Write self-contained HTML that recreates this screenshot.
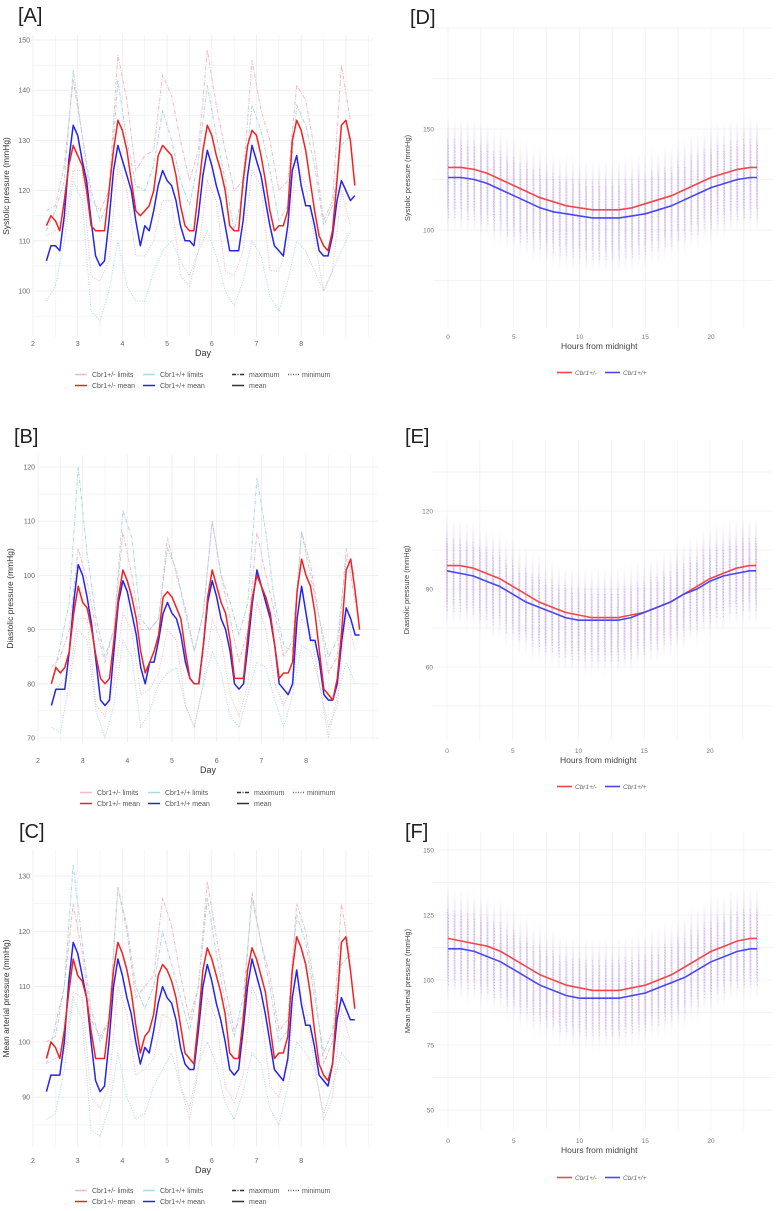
<!DOCTYPE html>
<html><head><meta charset="utf-8"><style>
body{margin:0;background:#fff;width:778px;height:1211px;overflow:hidden}
svg{display:block}
text{font-family:"Liberation Sans",sans-serif}
</style></head><body>
<svg id="fig" width="778" height="1211" viewBox="0 0 778 1211" xmlns="http://www.w3.org/2000/svg"></svg>
<script>
// ---------- shared time axes ----------
const daysFine = []; for (let i = 0; i < 70; i++) daysFine.push(+(2.3 + i * 0.1).toFixed(1));
const daysCoarse = []; for (let i = 0; i < 35; i++) daysCoarse.push(+(2.3 + i * 0.2).toFixed(1));
const hours = [0,1,2,3,4,5,6,7,8,9,10,11,12,13,14,15,16,17,18,19,20,21,22,23,23.5];
const dayTickLabels = ['2','3','4','5','6','7','8'];
const hourTickLabels = ['0','5','10','15','20'];

// ---------- Panel A: systolic ----------
const aHetMean = [113,115,114,112,118,125,129,127,125,120,113,112,112,112,120,128,134,132,128,122,116,115,116,117,120,127,129,128,127,123,117,113,112,112,120,128,133,131,127,124,120,113,112,112,122,129,132,131,127,122,116,112,113,113,116,130,134,132,128,122,116,111,109,108,112,122,133,134,130,121];
const aWtMean = [106,109,109,108,115,126,133,131,126,122,114,107,105,106,114,124,129,126,123,120,114,109,113,112,116,121,124,122,121,118,113,110,110,109,115,123,128,125,121,118,113,108,108,108,114,123,129,126,123,118,113,109,108,107,113,124,127,121,117,117,113,108,107,107,111,118,122,120,118,119];
const aHetMax = [116,117,125,142,131,118,116,120,147,138,124,127,128,143,139,130,122,128,148,137,128,120,122,146,136,130,120,122,141,138,128,114,118,145,134];
const aHetMin = [111,112,113,124,124,103,102,106,125,120,107,107,110,118,118,103,101,108,122,118,104,103,108,124,121,104,104,109,126,121,110,100,104,120,113];
const aWtMax = [112,116,122,144,131,120,114,118,142,130,121,120,125,136,130,122,117,126,141,131,122,112,120,137,132,124,114,117,137,133,125,113,117,129,131];
const aWtMin = [98,101,110,122,118,96,94,100,110,101,98,98,104,108,110,106,103,108,112,107,100,97,102,110,107,99,96,102,110,108,104,100,104,108,112];
const aYTicks = [100,110,120,130,140,150];

// ---------- Panel B: diastolic ----------
const bHetMean = [80,83,82,83,86,93,98,95,94,90,85,81,80,81,88,96,101,99,96,92,86,82,84,86,89,96,97,96,94,92,86,81,80,80,87,96,101,98,95,93,88,81,81,81,89,96,100,98,96,93,87,81,82,82,84,97,103,100,98,93,86,79,78,77,81,90,101,103,97,90];
const bWtMean = [76,79,79,79,86,95,102,100,96,91,84,77,76,77,86,95,99,97,93,89,83,80,84,84,88,93,95,93,92,89,84,81,80,80,87,95,99,96,92,90,86,80,79,80,87,95,101,98,95,92,87,80,79,78,80,92,98,93,88,88,84,78,77,77,80,88,94,92,89,89];
const bHetMax = [83,85,90,105,99,90,84,90,108,100,90,90,92,107,100,94,86,93,110,100,92,84,90,108,100,93,85,88,108,102,92,82,85,105,95];
const bHetMin = [78,80,82,92,92,76,74,80,93,90,78,79,82,90,88,76,72,80,92,88,78,74,80,95,90,80,76,80,92,90,80,72,76,93,86];
const bWtMax = [80,87,95,120,104,92,85,90,112,107,92,90,92,105,101,93,86,93,110,100,95,89,95,118,108,95,87,86,108,100,92,85,88,103,100];
const bWtMin = [72,71,80,90,88,75,70,76,88,85,72,75,80,82,83,76,72,80,86,82,74,72,78,84,83,77,72,78,87,86,80,70,78,84,80];
const bYTicks = [70,80,90,100,110,120];

// ---------- Panel C: mean arterial ----------
const cHetMean = [97,100,99,97,102,109,115,112,111,108,102,97,97,97,104,113,118,116,113,109,103,98,101,102,105,112,114,113,111,108,103,98,97,96,104,113,117,115,112,109,105,98,97,97,104,113,117,115,112,109,103,97,98,98,101,113,119,117,114,109,102,96,94,93,96,107,118,119,113,106];
const cWtMean = [91,94,94,94,100,111,118,116,112,108,100,93,91,92,100,110,115,112,108,105,100,96,99,98,102,107,110,108,107,104,99,96,95,95,102,110,114,111,107,104,100,95,94,95,102,110,115,112,109,105,100,95,94,93,97,108,113,107,103,103,99,94,93,92,96,104,108,106,104,104];
const cHetMax = [100,101,110,125,116,104,101,104,128,120,108,110,112,126,121,112,104,110,129,119,110,102,105,127,118,112,102,104,125,120,110,96,100,125,115];
const cHetMin = [96,97,98,109,108,90,88,92,110,105,94,95,97,105,104,92,86,95,108,104,92,89,94,110,106,92,90,96,110,106,96,86,90,106,100];
const cWtMax = [96,103,110,132,118,106,100,104,128,121,110,106,110,120,114,108,102,110,126,116,107,101,108,126,118,110,100,102,123,118,108,98,102,114,116];
const cWtMin = [86,87,95,108,104,84,83,88,98,90,86,87,92,95,98,92,88,96,100,96,89,86,91,98,96,88,85,92,100,98,95,87,92,98,96];
const cYTicks = [90,100,110,120,130];

// ---------- Panels D/E/F: fitted 24h curves ----------
const dHetCurve = [131,131,130,128,125,122,119,116,114,112,111,110,110,110,111,113,115,117,120,123,126,128,130,131,131];
const dWtCurve = [126,126,125,123,120,117,114,111,109,108,107,106,106,106,107,108,110,112,115,118,121,123,125,126,126];
const eHetCurve = [99,99,98,96,94,91,88,85,83,81,80,79,79,79,80,81,83,85,88,91,94,96,98,99,99];
const eWtCurve = [97,96,95,93,91,88,85,83,81,79,78,78,78,78,79,81,83,85,88,90,93,95,96,97,97];
const fHetCurve = [116,115,114,113,111,108,105,102,100,98,97,96,96,96,97,98,100,102,105,108,111,113,115,116,116];
const fWtCurve = [112,112,111,109,107,104,101,98,96,94,93,93,93,93,94,95,97,99,101,104,107,109,111,112,112];
const dYTicks = [100,150];
const eYTicks = [60,90,120];
const fYTicks = [50,75,100,125,150];
// scatter cloud extent around curve (mmHg below / above)
const dSpread = [30,28];
const eSpread = [22,20];
const fSpread = [22,22];

const NS = 'http://www.w3.org/2000/svg';
const svg = document.getElementById('fig');
function el(tag, attrs, parent) {
  const e = document.createElementNS(NS, tag);
  for (const k in attrs) e.setAttribute(k, attrs[k]);
  (parent || svg).appendChild(e);
  return e;
}
function txt(s, x, y, size, opts, parent) {
  const t = el('text', Object.assign({x: x, y: y, 'font-size': size, fill: '#444'}, opts || {}), parent);
  t.textContent = s;
  return t;
}
function pathFrom(xs, ys, fx, fy) {
  let d = '';
  for (let i = 0; i < xs.length; i++) d += (i ? 'L' : 'M') + fx(xs[i]).toFixed(1) + ',' + fy(ys[i]).toFixed(1);
  return d;
}

// ---------- left time-series panel ----------
function tsPanel(cfg) {
  const g = el('g', {});
  
  
  const fx = d => cfg.x0 + (d - 2) * cfg.dpx;
  const fy = v => cfg.yRef - (v - cfg.vRef) * cfg.vpx;
  const L = cfg.x0, R = cfg.x0 + 340, T = cfg.top, B = cfg.bottom;
  const step = cfg.yTicks[1] - cfg.yTicks[0];
  for (let v = cfg.yTicks[0] - step; v <= cfg.yTicks[cfg.yTicks.length - 1] + step; v += step / 2) {
    const y = fy(v); if (y < T || y > B) continue;
    el('line', {x1: L, x2: R, y1: y, y2: y, stroke: '#ececec', 'stroke-width': (v % step === 0) ? 0.8 : 0.5}, g);
  }
  for (let d = 2; d <= 9.51; d += 0.5) {
    const x = fx(d); if (x > R) continue;
    el('line', {x1: x, x2: x, y1: T, y2: B, stroke: '#ececec', 'stroke-width': (d % 1 === 0) ? 0.8 : 0.5}, g);
  }
  cfg.yTicks.forEach(v => txt(String(v), L - 3, fy(v) + 2.5, 7, {'text-anchor': 'end', fill: '#666'}, g));
  dayTickLabels.forEach((s, i) => txt(s, fx(2 + i), cfg.tickY, 7, {'text-anchor': 'middle', fill: '#666'}, g));
  txt('Day', (L + R) / 2, cfg.tickY + 10, 9, {'text-anchor': 'middle', fill: '#333'}, g);
  const yt = txt(cfg.yTitle, 0, 0, 8.5, {'text-anchor': 'middle', fill: '#333', transform: 'translate(' + cfg.yTitleX + ',' + ((T + B) / 2) + ') rotate(-90)'}, g);
  
  
  const lab = txt(cfg.label, cfg.labelX, cfg.labelY, 20, {fill: '#222'}, g);
  
  
  const lim = [[cfg.hetMax, '#f5b8c4', '4,1.5,1,1.5'], [cfg.hetMin, '#f5b8c4', '1,1.5'], [cfg.wtMax, '#a9d8e4', '4,1.5,1,1.5'], [cfg.wtMin, '#a9d8e4', '1,1.5']];
  const limNames = ['het-max-line', 'het-min-line', 'wt-max-line', 'wt-min-line'];
  lim.forEach((l, i) => {
    const p = el('path', {d: pathFrom(daysCoarse, l[0], fx, fy), fill: 'none', stroke: l[1], 'stroke-width': 1, 'stroke-dasharray': l[2]}, g);
    
    
  });
  const pw = el('path', {d: pathFrom(daysFine, cfg.wtMean, fx, fy), fill: 'none', stroke: '#2424f0', 'stroke-width': 1.5, 'stroke-linejoin': 'round'}, g);
  
  
  const ph = el('path', {d: pathFrom(daysFine, cfg.hetMean, fx, fy), fill: 'none', stroke: '#f52020', 'stroke-width': 1.5, 'stroke-linejoin': 'round'}, g);
  
  
  const lg = el('g', {}, g);
  
  
  const r1 = cfg.legY, r2 = cfg.legY + 11, ox = cfg.x0 - 33;
  const items = [
    [75, r1, '#f5b8c4', '', 'Cbr1+/- limits'], [143, r1, '#a9d8e4', '', 'Cbr1+/+ limits'],
    [232, r1, '#333', '4,1.5,1,1.5', 'maximum'], [288, r1, '#666', '1,1.5', 'minimum'],
    [75, r2, '#f52020', '', 'Cbr1+/- mean'], [143, r2, '#2424f0', '', 'Cbr1+/+ mean'],
    [232, r2, '#333', '', 'mean']];
  items.forEach(it => {
    const e = el('g', {}, lg);
    
    
    el('line', {x1: it[0] + ox, x2: it[0] + ox + 12, y1: it[1] - 2.5, y2: it[1] - 2.5, stroke: it[2], 'stroke-width': 1.5, 'stroke-dasharray': it[3] || 'none'}, e);
    txt(it[4], it[0] + ox + (it[0] === 288 ? 14 : 17), it[1], 7, {fill: '#555'}, e);
  });
}

// ---------- right circadian panel ----------
function circPanel(cfg) {
  const g = el('g', {});
  
  
  const fx = h => cfg.x0 + h * 13.15;
  const fy = v => cfg.yRef - (v - cfg.vRef) * cfg.vpx;
  const L = cfg.x0 - 15, R = cfg.x0 + 325, T = cfg.top, B = cfg.bottom;
  const step = cfg.yTicks[1] - cfg.yTicks[0];
  for (let v = cfg.yTicks[0] - 2 * step; v <= cfg.yTicks[cfg.yTicks.length - 1] + 2 * step; v += step / 2) {
    const y = fy(v); if (y < T || y > B) continue;
    el('line', {x1: L, x2: R, y1: y, y2: y, stroke: '#efefef', 'stroke-width': 0.7}, g);
  }
  for (let h = 0; h <= 22.5; h += 2.5) el('line', {x1: fx(h), x2: fx(h), y1: T, y2: B, stroke: '#efefef', 'stroke-width': 0.7}, g);
  const defs = el('defs', {}, g);
  const gid = 'grad' + cfg.label.replace(/\W/g, '');
  const gr = el('linearGradient', {id: gid, x1: 0, y1: 0, x2: 0, y2: 1}, defs);
  [[0, 0.0], [0.25, 0.2], [0.5, 0.28], [0.75, 0.2], [1, 0.0]].forEach(s => el('stop', {offset: s[0], 'stop-color': '#9a70d8', 'stop-opacity': s[1]}, gr));
  for (let h = 0; h <= 23.5; h += 0.5) {
    const i = Math.min(Math.round(h), hours.length - 2);
    const c = (cfg.het[i] + cfg.wt[i]) / 2;
    const y1 = fy(c + cfg.spread[1]), y2 = fy(c - cfg.spread[0]);
    const col = el('rect', {x: fx(h) - 1, y: y1, width: 2, height: y2 - y1, fill: 'url(#' + gid + ')'}, g);
    
    
    el('line', {x1: fx(h) - 0.4, x2: fx(h) - 0.4, y1: y1 + (y2 - y1) * 0.2, y2: y2 - (y2 - y1) * 0.2, stroke: '#d84080', 'stroke-width': 0.8, 'stroke-dasharray': '1,1.6', opacity: 0.3}, g);
    el('line', {x1: fx(h) + 0.4, x2: fx(h) + 0.4, y1: y1 + (y2 - y1) * 0.25, y2: y2 - (y2 - y1) * 0.12, stroke: '#5a48e0', 'stroke-width': 0.8, 'stroke-dasharray': '1,2', opacity: 0.3}, g);
  }
  cfg.yTicks.forEach(v => txt(String(v), cfg.x0 - 14, fy(v) + 2.5, 6.5, {'text-anchor': 'end', fill: '#777'}, g));
  hourTickLabels.forEach((s, i) => txt(s, fx(i * 5), cfg.tickY, 6.5, {'text-anchor': 'middle', fill: '#777'}, g));
  txt('Hours from midnight', fx(11.5), cfg.tickY + 10, 8.5, {'text-anchor': 'middle', fill: '#444'}, g);
  const yt = txt(cfg.yTitle, 0, 0, 7.5, {'text-anchor': 'middle', fill: '#444', transform: 'translate(' + (cfg.x0 - 38) + ',' + ((T + B) / 2) + ') rotate(-90)'}, g);
  
  
  const lab = txt(cfg.label, cfg.labelX, cfg.labelY, 20, {fill: '#222'}, g);
  
  
  const ph = el('path', {d: pathFrom(hours, cfg.het, fx, fy), fill: 'none', stroke: '#f04848', 'stroke-width': 1.6}, g);
  
  
  const pw = el('path', {d: pathFrom(hours, cfg.wt, fx, fy), fill: 'none', stroke: '#4848f0', 'stroke-width': 1.6}, g);
  
  
  const lg = el('g', {}, g);
  
  
  const ly = cfg.legY;
  el('line', {x1: 557, x2: 572, y1: ly - 2.5, y2: ly - 2.5, stroke: '#f04848', 'stroke-width': 1.6}, lg);
  txt('Cbr1+/-', 575, ly, 6.5, {fill: '#666', 'font-style': 'italic'}, lg);
  el('line', {x1: 605, x2: 620, y1: ly - 2.5, y2: ly - 2.5, stroke: '#4848f0', 'stroke-width': 1.6}, lg);
  txt('Cbr1+/+', 623, ly, 6.5, {fill: '#666', 'font-style': 'italic'}, lg);
}

tsPanel({name: 'panel-a-systolic', label: '[A]', labelX: 18, labelY: 22, x0: 33, dpx: 44.7, yRef: 291, vRef: 100, vpx: 5.02, top: 35, bottom: 337, tickY: 346, legY: 377, yTicks: aYTicks, yTitle: 'Systolic pressure (mmHg)', yTitleX: 9,
  hetMean: aHetMean, wtMean: aWtMean, hetMax: aHetMax, hetMin: aHetMin, wtMax: aWtMax, wtMin: aWtMin});
tsPanel({name: 'panel-b-diastolic', label: '[B]', labelX: 14, labelY: 443, x0: 38, dpx: 44.67, yRef: 467, vRef: 120, vpx: 5.42, top: 455, bottom: 742, tickY: 763, legY: 795, yTicks: bYTicks, yTitle: 'Diastolic pressure (mmHg)', yTitleX: 13,
  hetMean: bHetMean, wtMean: bWtMean, hetMax: bHetMax, hetMin: bHetMin, wtMax: bWtMax, wtMin: bWtMin});
tsPanel({name: 'panel-c-mean-arterial', label: '[C]', labelX: 19, labelY: 838, x0: 33, dpx: 44.7, yRef: 876, vRef: 130, vpx: 5.53, top: 850, bottom: 1147, tickY: 1163, legY: 1193, yTicks: cYTicks, yTitle: 'Mean arterial pressure (mmHg)', yTitleX: 9,
  hetMean: cHetMean, wtMean: cWtMean, hetMax: cHetMax, hetMin: cHetMin, wtMax: cWtMax, wtMin: cWtMin});
circPanel({name: 'panel-d-systolic-circadian', label: '[D]', labelX: 410, labelY: 24, x0: 448, yRef: 129, vRef: 150, vpx: 2.02, top: 28, bottom: 328, tickY: 339, legY: 375, yTicks: dYTicks, yTitle: 'Systolic pressure (mmHg)', het: dHetCurve, wt: dWtCurve, spread: dSpread});
circPanel({name: 'panel-e-diastolic-circadian', label: '[E]', labelX: 405, labelY: 443, x0: 447, yRef: 511, vRef: 120, vpx: 2.6, top: 440, bottom: 740, tickY: 753, legY: 789, yTicks: eYTicks, yTitle: 'Diastolic pressure (mmHg)', het: eHetCurve, wt: eWtCurve, spread: eSpread});
circPanel({name: 'panel-f-mean-arterial-circadian', label: '[F]', labelX: 405, labelY: 838, x0: 448, yRef: 850, vRef: 150, vpx: 2.6, top: 832, bottom: 1130, tickY: 1143, legY: 1180, yTicks: fYTicks, yTitle: 'Mean arterial pressure (mmHg)', het: fHetCurve, wt: fWtCurve, spread: fSpread});
</script>
</body></html>
